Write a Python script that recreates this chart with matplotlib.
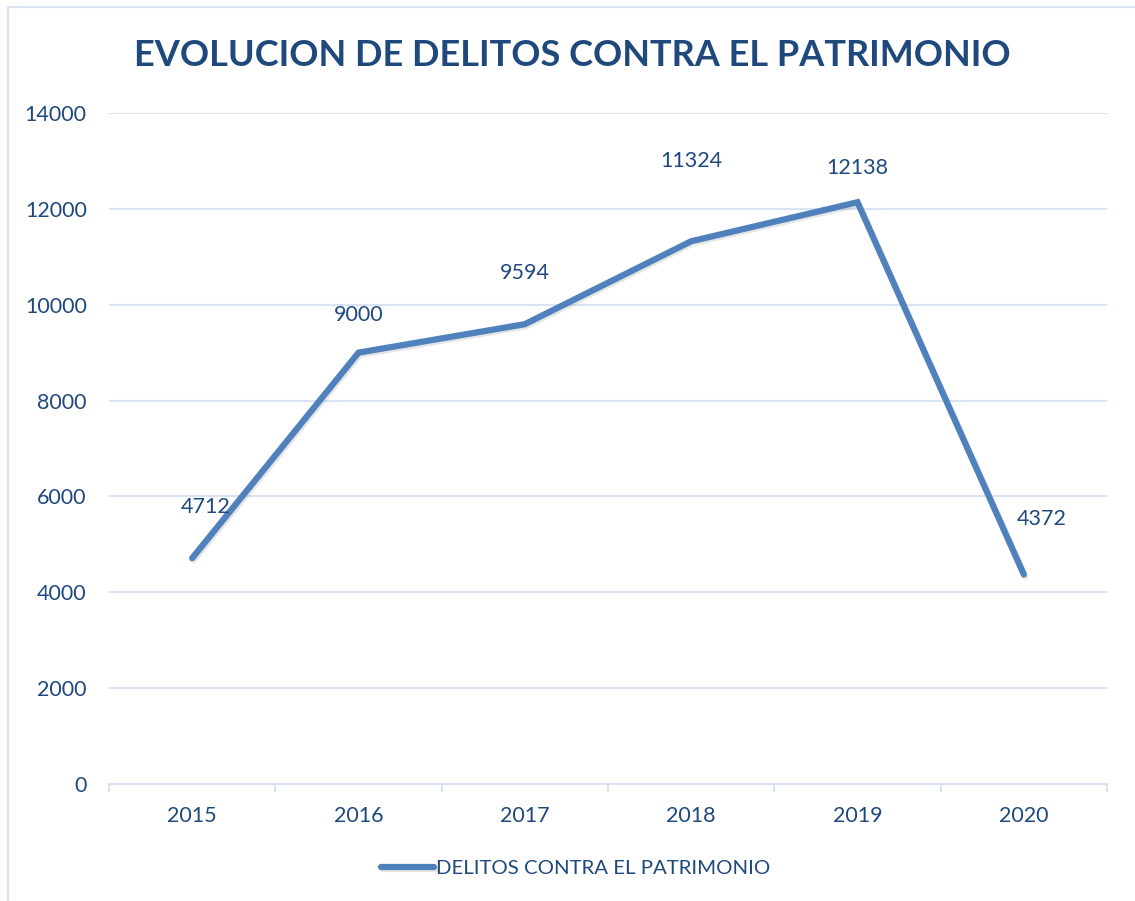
import matplotlib.pyplot as plt
import matplotlib.patheffects as pe
from matplotlib.patches import Rectangle

years = ["2015", "2016", "2017", "2018", "2019", "2020"]
delitos = [4712, 9000, 9594, 11324, 12138, 4372]
serie = "DELITOS CONTRA EL PATRIMONIO"
titulo = "EVOLUCION DE DELITOS CONTRA EL PATRIMONIO"

# label offsets in points (dx, dy)
offsets = [(10, 37), (0, 27), (0, 37), (0, 58), (0, 25), (13, 40)]

txt = "#1f497d"
linea = "#4f81bd"
rejilla = "#d9e3f3"

plt.rcParams['font.family'] = ['Lato', 'DejaVu Sans']

fig = plt.figure(figsize=(11.35, 9.01), dpi=100)
ax = fig.add_axes([109 / 1135, 117 / 901, 998 / 1135, 671 / 901])

# chart frame
fig.patches.append(Rectangle((8 / 1135, -0.1), 1.2, 1.1 - 7 / 901, transform=fig.transFigure,
                             fill=False, edgecolor=rejilla, linewidth=1.5))

x = list(range(len(years)))
ax.plot(x, delitos, color=linea, linewidth=4.5, solid_capstyle="round", solid_joinstyle="miter",
        path_effects=[pe.SimpleLineShadow(offset=(1, -1.5), shadow_color="gray", alpha=0.2),
                      pe.Normal()], label=serie, zorder=3)

for xi, v, off in zip(x, delitos, offsets):
    ax.annotate(str(v), (xi, v), xytext=off, textcoords="offset points",
                ha="center", va="center", fontsize=15.5, color=txt)

ax.set_xlim(-0.5, len(years) - 0.5)
ax.set_ylim(0, 14000)
ax.set_yticks(range(0, 14001, 2000))
ax.set_xticks(x)
ax.set_xticklabels(years)
ax.set_xticks([i + 0.5 for i in range(-1, len(years))], minor=True)
ax.grid(axis="y", color=rejilla, linewidth=1.5)
ax.set_axisbelow(True)
for s in ["top", "right", "left"]:
    ax.spines[s].set_visible(False)
ax.spines["bottom"].set_color(rejilla)
ax.spines["bottom"].set_linewidth(1.5)
ax.tick_params(axis="y", length=0, pad=16, labelsize=15.5, labelcolor=txt)
ax.tick_params(axis="x", which="major", length=0, pad=16, labelsize=15.5, labelcolor=txt)
ax.tick_params(axis="x", which="minor", length=6, width=1.5, color=rejilla)

fig.text(572 / 1135, 1 - 55 / 901, titulo, ha="center", va="center",
         fontsize=26, fontweight="bold", color=txt)

leg = fig.legend(loc="center", bbox_to_anchor=(576 / 1135, 1 - 868 / 901), frameon=False,
                 fontsize=14.7, handlelength=2.6, handletextpad=0.1)
for t in leg.get_texts():
    t.set_color(txt)

fig.savefig("out.png", dpi=100)
